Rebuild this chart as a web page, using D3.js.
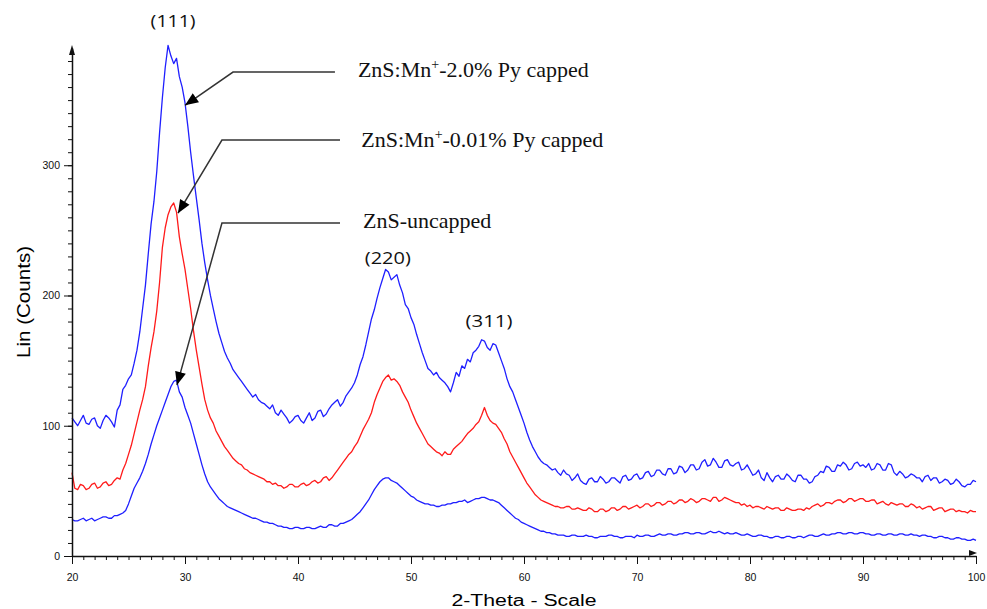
<!DOCTYPE html>
<html lang="en">
<head>
    <meta charset="UTF-8">
    <title>XRD patterns: ZnS samples</title>
    <script src="https://d3js.org/d3.v7.min.js"></script>
    <style>
        body { margin: 0; background: white; }
        svg { display: block; }
        .tick text { font-family: "Liberation Sans", Arial, sans-serif; font-size: 10.5px; fill: #111; }
        .domain, .tick line { stroke: #111; }
    </style>
</head>
<body>
<svg width="987" height="609"></svg>
<script>
    // 2-theta grid, 0.25 degree steps from 20 to 100
    const angleStart = 20, angleStep = 0.25;

    // ZnS:Mn+ - 2.0% Py capped (top, blue)
    const mn20 = [
        106,103,100,104,108,102,101,105,106,100,98,104,108,106,103,99,112,116,128,131,
        136,139,148,158,172,190,208,232,255,272,295,325,352,375,392,384,378,382,368,360,
        348,330,310,292,275,258,240,225,212,200,190,180,171,164,157,152,148,143,140,137,
        134,131,128,125,122,124,120,118,117,115,113,116,110,108,112,109,106,102,104,107,
        108,104,102,106,110,104,106,111,112,107,109,113,116,118,120,115,118,123,126,129,
        133,139,147,153,162,172,182,189,198,206,213,220,218,212,214,216,208,202,193,190,
        183,178,170,163,156,150,144,142,139,141,137,135,133,130,126,133,141,138,146,144,
        151,149,156,158,161,166,165,160,158,163,162,156,150,144,136,130,126,120,114,108,
        102,95,89,84,80,76,73,71,70,68,66,67,64,62,66,63,62,58,60,63,
        58,56,55,59,60,57,57,61,59,56,57,60,60,58,56,61,62,58,59,62,
        63,59,60,64,65,61,62,66,66,63,62,67,67,63,64,69,68,64,66,70,
        70,66,67,72,74,69,70,75,72,68,68,73,74,70,69,71,72,66,67,70,
        66,62,63,66,60,58,64,60,57,61,62,59,59,63,61,58,57,62,62,59,
        59,56,57,61,62,65,64,69,68,65,65,70,69,72,70,66,67,71,72,69,
        70,68,71,66,67,71,70,66,66,71,70,64,62,65,63,60,61,63,62,60,
        60,57,61,62,58,60,60,56,57,59,58,55,56,59,57,54,53,55,55,58,
        57
    ];

    // ZnS:Mn+ - 0.01% Py capped (middle, red)
    const mn001 = [
        64,52,51,55,54,51,52,55,56,52,53,56,57,54,55,58,60,59,66,71,
        78,85,94,103,112,120,130,146,160,172,188,210,237,252,262,268,271,264,245,232,
        220,205,190,173,158,145,132,120,112,106,102,96,92,88,84,81,78,75,73,71,
        70,67,66,64,63,62,61,60,59,57,57,55,56,54,54,52,53,55,55,53,
        53,55,56,54,55,57,58,56,57,60,61,58,60,63,66,69,72,75,78,80,
        84,87,92,97,101,105,110,118,124,129,134,137,139,135,136,134,131,126,122,118,
        112,107,102,98,94,90,86,84,82,80,79,77,80,78,78,82,84,86,88,91,
        94,96,98,101,103,108,114,108,104,102,101,98,95,90,86,80,76,72,68,64,
        60,56,53,50,47,45,43,42,41,40,39,38,38,37,37,38,38,36,36,37,
        36,35,35,37,36,34,34,36,36,34,35,37,37,35,36,38,38,36,37,38,
        39,37,38,40,40,38,39,41,41,39,40,42,42,40,41,43,43,41,42,44,
        43,41,42,44,44,43,42,45,45,42,43,45,44,43,42,41,41,39,40,38,
        39,37,38,38,37,36,38,37,36,37,37,35,35,37,36,35,35,36,36,35,
        37,36,38,39,40,38,39,41,41,40,42,43,43,41,42,44,44,42,43,44,
        44,42,42,43,43,40,41,42,40,39,41,40,39,40,40,38,38,40,39,37,
        38,36,37,38,38,35,36,37,37,34,35,36,36,34,35,34,34,33,35,34,
        34
    ];

    // ZnS - uncapped (bottom, blue)
    const uncapped = [
        28,27,27,28,29,27,28,29,27,28,29,30,30,29,29,31,31,32,33,35,
        40,46,52,56,60,65,71,78,86,93,100,106,112,118,124,130,134,135,126,122,
        114,108,102,94,86,78,70,63,57,53,50,47,44,42,40,38,37,36,35,34,
        33,32,31,30,29,29,28,27,26,26,25,25,24,23,23,22,22,21,21,22,
        22,21,21,22,22,21,21,22,23,22,22,24,24,23,23,25,25,26,27,28,
        30,32,34,37,40,43,47,51,54,57,59,60,60,58,57,56,54,52,50,48,
        46,45,43,42,41,40,40,39,39,38,38,39,39,40,40,41,41,42,42,43,
        41,42,43,44,44,45,45,44,43,43,42,41,39,37,35,33,31,29,28,26,
        25,24,23,22,21,20,19,19,18,18,17,17,16,16,16,15,15,16,16,15,
        15,15,16,15,15,14,14,15,15,15,16,16,15,15,14,14,15,15,15,14,
        16,15,15,16,16,15,15,16,17,16,16,17,17,16,16,17,17,18,18,17,
        17,18,18,17,17,18,19,18,18,19,18,17,18,17,17,18,17,16,16,17,
        16,15,15,16,16,15,15,14,14,15,15,14,14,15,15,14,14,15,15,14,
        15,16,16,15,15,16,17,16,16,17,17,18,18,17,17,18,18,17,17,18,
        18,17,17,16,16,17,17,16,16,17,17,16,16,17,17,16,16,17,16,16,
        15,16,16,15,15,14,14,15,15,14,14,13,13,14,14,13,13,12,12,13,
        12
    ];

    const xTickLabels = [20, 30, 40, 50, 60, 70, 80, 90, 100];
    const yTickLabels = [0, 100, 200, 300];

    // annotations in data units: [angle, counts]
    const peakLabels = [
        { text: "(111)", at: [28.95, 406], len: 45 },
        { text: "(220)", at: [47.95, 224], len: 46 },
        { text: "(311)", at: [56.9, 176], len: 47 }
    ];
    const callouts = [
        { name: "ZnS:Mn", sup: "+", rest: "-2.0% Py capped", text: [45.3, 367.5], path: [[43.27, 371.5], [34.25, 371.5], [30.0, 346]] },
        { name: "ZnS:Mn", sup: "+", rest: "-0.01% Py capped", text: [45.6, 314], path: [[43.72, 319.3], [33.27, 319.3], [29.38, 263.2]] },
        { name: "ZnS-uncapped", sup: "", rest: "", text: [45.75, 252], path: [[43.72, 255.6], [33.27, 255.6], [29.29, 131.2]] }
    ];

    const svg = d3.select("svg");

    const x = d3.scaleLinear().domain([20, 100]).range([72, 976]);
    const y = d3.scaleLinear().domain([0, 390]).range([556, 48]);

    const series = [
        { values: uncapped, color: "#1f1fff" },
        { values: mn001, color: "#ff1a1a" },
        { values: mn20, color: "#1f1fff" }
    ];

    const line = d3.line()
        .x((d, i) => x(angleStart + i * angleStep))
        .y(d => y(d));

    svg.append("g").selectAll("path")
        .data(series)
        .join("path")
        .attr("d", d => line(d.values))
        .attr("fill", "none")
        .attr("stroke", d => d.color)
        .attr("stroke-width", 1.3)
        .attr("stroke-linejoin", "round");

    // x axis: minor every 1, major every 10
    svg.append("g")
        .attr("transform", `translate(0,${y(0)})`)
        .call(d3.axisBottom(x).tickValues(d3.range(20, 101, 1)).tickSize(4).tickFormat(""))
        .call(g => g.select(".domain").remove());
    svg.append("g")
        .attr("transform", `translate(0,${y(0)})`)
        .call(d3.axisBottom(x).tickValues(xTickLabels).tickSize(8).tickSizeOuter(0).tickPadding(10))
        .call(g => g.select(".domain").attr("stroke-width", 1.5));

    // y axis: minor every 10, major every 100
    svg.append("g")
        .attr("transform", `translate(${x(20)},0)`)
        .call(d3.axisLeft(y).tickValues(d3.range(0, 390, 10)).tickSize(4).tickFormat(""))
        .call(g => g.select(".domain").remove());
    svg.append("g")
        .attr("transform", `translate(${x(20)},0)`)
        .call(d3.axisLeft(y).tickValues(yTickLabels).tickSize(8).tickSizeOuter(0).tickPadding(4))
        .call(g => g.select(".domain").attr("stroke-width", 1.5));

    // axis end arrows
    svg.append("path")
        .attr("d", `M${x(20) - 3},${y(390) + 7} L${x(20)},${y(390) - 3} L${x(20) + 3},${y(390) + 7} Z`)
        .attr("fill", "#111");
    svg.append("path")
        .attr("d", `M${x(100) - 7},${y(0) - 6} L${x(100) + 1},${y(0) - 3} L${x(100) - 7},${y(0)} Z`)
        .attr("fill", "#111");

    // axis titles
    svg.append("text")
        .attr("x", 524).attr("y", 606)
        .attr("text-anchor", "middle")
        .attr("textLength", 145).attr("lengthAdjust", "spacingAndGlyphs")
        .style("font-family", "'Liberation Sans', Arial, sans-serif")
        .style("font-size", "16px")
        .text("2-Theta - Scale");

    svg.append("text")
        .attr("transform", "translate(30,302) rotate(-90)")
        .attr("text-anchor", "middle")
        .attr("textLength", 112).attr("lengthAdjust", "spacingAndGlyphs")
        .style("font-family", "'Liberation Sans', Arial, sans-serif")
        .style("font-size", "19px")
        .text("Lin (Counts)");

    // peak (hkl) labels
    svg.append("g").selectAll("text")
        .data(peakLabels)
        .join("text")
        .attr("x", d => x(d.at[0]))
        .attr("y", d => y(d.at[1]))
        .attr("text-anchor", "middle")
        .attr("textLength", d => d.len).attr("lengthAdjust", "spacingAndGlyphs")
        .style("font-family", "'Open Sans', sans-serif")
        .style("font-size", "17px")
        .style("fill", "#111")
        .text(d => d.text);

    // callout arrows
    svg.append("defs").append("marker")
        .attr("id", "head")
        .attr("markerUnits", "userSpaceOnUse")
        .attr("viewBox", "0 0 12 10")
        .attr("refX", 12).attr("refY", 5)
        .attr("markerWidth", 14).attr("markerHeight", 11)
        .attr("orient", "auto")
        .append("path")
        .attr("d", "M0,0 L12,5 L0,10 Z")
        .attr("fill", "#000");

    const calloutLine = d3.line().x(d => x(d[0])).y(d => y(d[1]));

    svg.append("g").selectAll("path")
        .data(callouts)
        .join("path")
        .attr("d", d => calloutLine(d.path))
        .attr("fill", "none")
        .attr("stroke", "#333")
        .attr("stroke-width", 1.5)
        .attr("marker-end", "url(#head)");

    const labels = svg.append("g").selectAll("text")
        .data(callouts)
        .join("text")
        .attr("x", d => x(d.text[0]))
        .attr("y", d => y(d.text[1]))
        .style("font-family", "'Liberation Serif', 'Times New Roman', serif")
        .style("font-size", "22px")
        .style("fill", "#111");

    labels.append("tspan").text(d => d.name);
    labels.filter(d => d.sup).append("tspan")
        .attr("dy", -8).style("font-size", "14px").text(d => d.sup);
    labels.filter(d => d.sup).append("tspan")
        .attr("dy", 8).text(d => d.rest);
</script>
</body>
</html>
